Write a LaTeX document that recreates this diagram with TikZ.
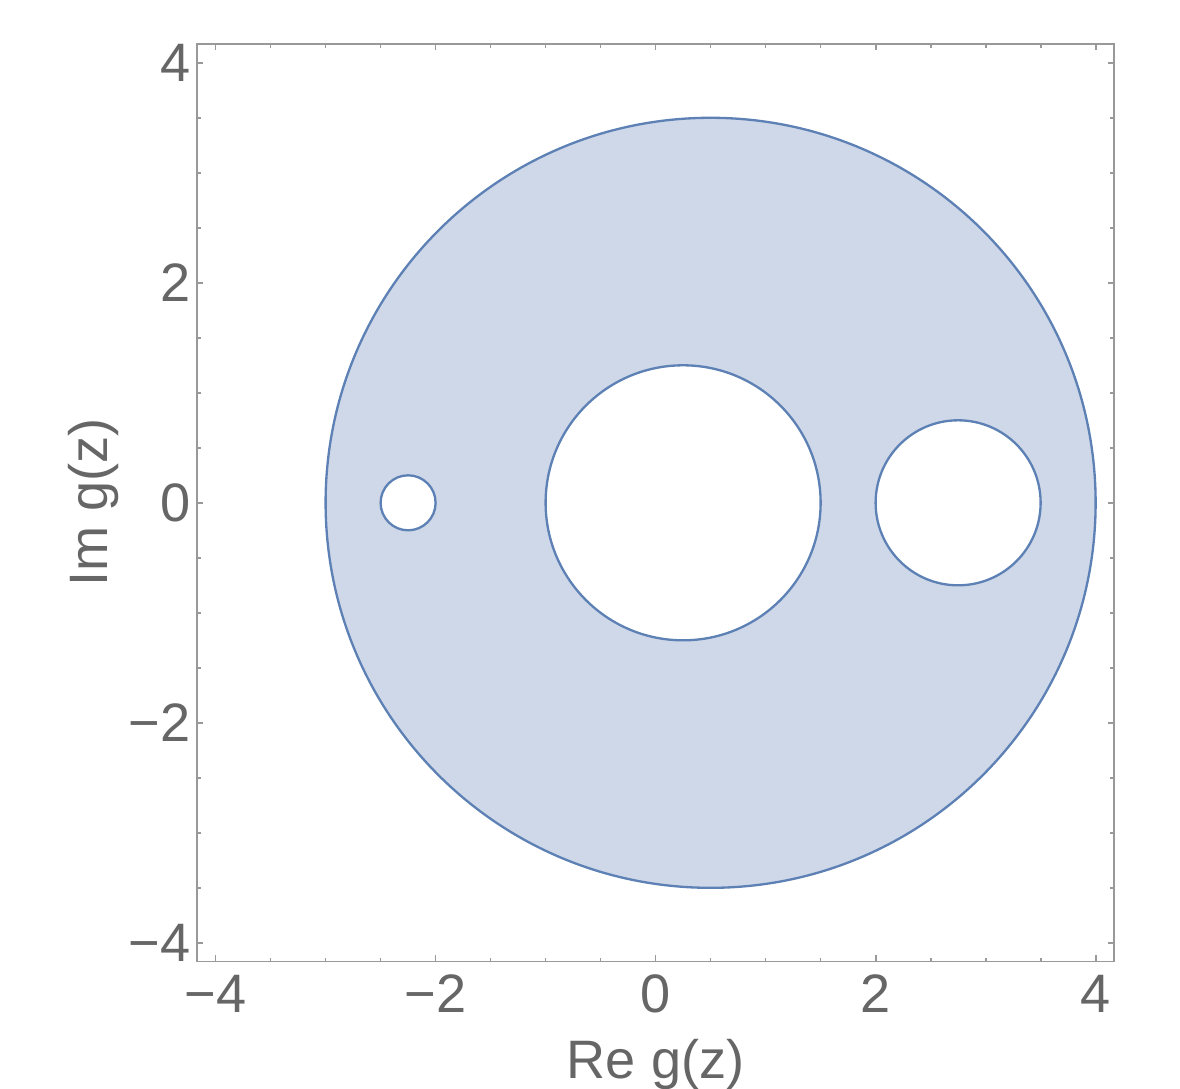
\documentclass[tikz,border=0pt]{standalone}
\usepackage{fontspec}
\setmainfont{Liberation Sans}
\usetikzlibrary{positioning}
\definecolor{regfill}{HTML}{CFD8E8}
\definecolor{regline}{HTML}{5E81B5}
\definecolor{axgray}{HTML}{666666}
\definecolor{framegray}{HTML}{999999}

\begin{document}
\begin{tikzpicture}[
  lbl/.style={text=axgray,font=\fontsize{14}{17}\selectfont,inner sep=0pt},
  frm/.style={draw=framegray,line width=0.45pt},
  bnd/.style={draw=regline,line width=0.6pt}]
  \useasboundingbox (-5.96,-5.32) rectangle (4.767,4.571);
  % shaded region
  \fill[regfill,even odd rule] (0.5,0) circle (3.5) (0.25,0) circle (1.25)
    (2.75,0) circle (0.75) (-2.25,0) circle (0.25);
  \draw[bnd] (0.5,0) circle (3.5);
  \draw[bnd] (0.25,0) circle (1.25);
  \draw[bnd] (2.75,0) circle (0.75);
  \draw[bnd] (-2.25,0) circle (0.25);
  % frame and ticks
  \draw[frm] (-4.17,-4.17) rectangle (4.17,4.17);
  \foreach \t in {-4,-2,0,2,4} {
    \draw[frm] (\t,-4.17) -- ++(0,0.055);
    \draw[frm] (\t,4.17) -- ++(0,-0.055);
    \draw[frm] (-4.17,\t) -- ++(0.055,0);
    \draw[frm] (4.17,\t) -- ++(-0.055,0);
    \node[lbl] (x\t) at (\t,-4.462) {\ifnum\t<0 −\the\numexpr-\t\relax\else\t\fi};
    \node[lbl,anchor=east] (y\t) at (-4.223,\t) {\ifnum\t<0 −\the\numexpr-\t\relax\else\t\fi};
  }
  \foreach \t in {-3.5,-3,-2.5,-1.5,-1,-0.5,0.5,1,1.5,2.5,3,3.5} {
    \draw[frm] (\t,-4.17) -- ++(0,0.035);
    \draw[frm] (\t,4.17) -- ++(0,-0.035);
    \draw[frm] (-4.17,\t) -- ++(0.035,0);
    \draw[frm] (4.17,\t) -- ++(-0.035,0);
  }
  % axis labels
  \node[lbl,anchor=base] (xlab) at (0,-5.233) {Re g(z)};
  \node[lbl,anchor=base,rotate=90] (ylab) at (-4.986,0) {Im g(z)};
\end{tikzpicture}
\end{document}
